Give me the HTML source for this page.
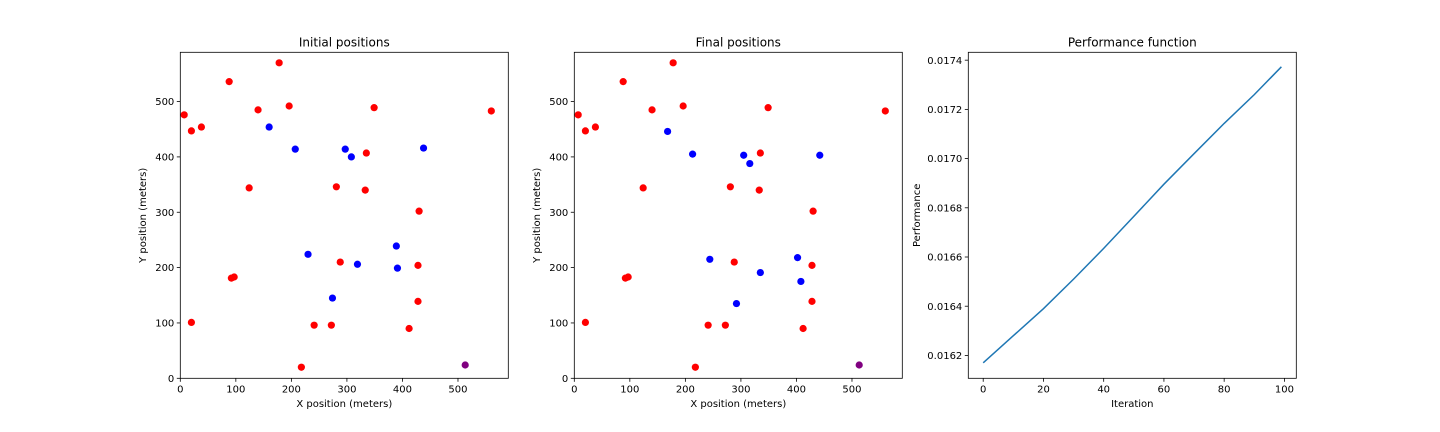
<!DOCTYPE html>
<html><head><meta charset="utf-8"><style>
html,body{margin:0;padding:0;background:#fff;}
svg{display:block;font-family:"DejaVu Sans","Liberation Sans",sans-serif;}
</style></head><body>
<svg id="fig" width="1440" height="432" viewBox="0 0 1440 432" xmlns="http://www.w3.org/2000/svg"></svg>
<script>
// ---- data ----
const redX = [178,88,7,140,196,349,560,20,38,335,124,281,333,430,288,428,92,97,428,20,241,272,412,218];
const redY = [570,536,476,485,492,489,483,447,454,407,344,346,340,302,210,204,181,183,139,101,96,96,90,20];
const blueInitX = [160,207,297,308,438,230,319,389,391,274];
const blueInitY = [454,414,414,400,416,224,206,239,199,145];
const blueFinalX = [168,213,305,316,442,244,335,402,408,292];
const blueFinalY = [446,405,403,388,403,215,191,218,175,135];
const baseX = [513];
const baseY = [24];
const posTicks = [0,100,200,300,400,500];
const iterX = [0,10,20,30,40,50,60,70,80,90,99];
const perfY = [0.01617,0.01628,0.01639,0.01651,0.016635,0.016765,0.016896,0.01702,0.017143,0.01726,0.017373];
const iterTicks = [0,20,40,60,80,100];
const perfTicks = [0.0162,0.0164,0.0166,0.0168,0.0170,0.0172,0.0174];

const svg = document.getElementById('fig');
const NS = 'http://www.w3.org/2000/svg';
function mk(tag, attrs, parent){const e=document.createElementNS(NS,tag);for(const k in attrs)e.setAttribute(k,attrs[k]);(parent||svg).appendChild(e);return e;}

function panel(left, name, title, xlabel, ylabel, xmin, xmax, ymin, ymax, xt, yt, xfmt, yfmt){
  const top=52.3, w=328, h=326;
  const g = mk('g',{});
  
  
  const sx = v => left + (v - xmin) / (xmax - xmin) * w;
  const sy = v => top + h - (v - ymin) / (ymax - ymin) * h;
  const t = mk('text',{x:left+w/2,y:top-6,'text-anchor':'middle','font-size':12,fill:'#000'},g);
  t.textContent = title;
  
  
  xt.forEach(v=>{
    const x=sx(v);
    mk('line',{x1:x,x2:x,y1:top+h,y2:top+h+3.5,stroke:'#000','stroke-width':0.8},g);
    const tl=mk('text',{x:x,y:top+h+14,'text-anchor':'middle','font-size':10,fill:'#000'},g);
    tl.textContent=xfmt(v);
    
    
  });
  yt.forEach(v=>{
    const y=sy(v);
    mk('line',{x1:left-3.5,x2:left,y1:y,y2:y,stroke:'#000','stroke-width':0.8},g);
    const tl=mk('text',{x:left-6,y:y+3.6,'text-anchor':'end','font-size':10,fill:'#000'},g);
    tl.textContent=yfmt(v);
    
    
  });
  const xl=mk('text',{x:left+w/2,y:407,'text-anchor':'middle','font-size':10,fill:'#000'},g);
  xl.textContent=xlabel;
  
  
  return {g,sx,sy,frame:()=>{const r=mk('rect',{x:left,y:top,width:w,height:h,fill:'none',stroke:'#000','stroke-width':0.8},g);}, ylab:(xpos)=>{const yl=mk('text',{x:xpos,y:top+h/2,'text-anchor':'middle','font-size':10,fill:'#000',transform:`rotate(-90 ${xpos} ${top+h/2})`},g);yl.textContent=ylabel;}};
}

function scatter(p, xs, ys, color, nm){
  xs.forEach((x,i)=>{
    const c=mk('circle',{cx:p.sx(x),cy:p.sy(ys[i]),r:3.6,fill:color},p.g);
    
    
  });
}

const intf = v => String(v);
const p1 = panel(180.3,'initial-positions-panel','Initial positions','X position (meters)','Y position (meters)',0,590.6,0,589,posTicks,posTicks,intf,intf);
p1.ylab(146);
scatter(p1, redX, redY, '#ff0000', 'red-point');
scatter(p1, blueInitX, blueInitY, '#0000ff', 'blue-point');
scatter(p1, baseX, baseY, '#800080', 'purple-point');
p1.frame();

const p2 = panel(574.3,'final-positions-panel','Final positions','X position (meters)','Y position (meters)',0,590.6,0,589,posTicks,posTicks,intf,intf);
p2.ylab(540);
scatter(p2, redX, redY, '#ff0000', 'red-point');
scatter(p2, blueFinalX, blueFinalY, '#0000ff', 'blue-point');
scatter(p2, baseX, baseY, '#800080', 'purple-point');
p2.frame();

const p3 = panel(968.3,'performance-panel','Performance function','Iteration','Performance',-4.95,103.95,0.016107,0.017432,iterTicks,perfTicks,intf,v=>v.toFixed(4));
p3.ylab(920);
const d = iterX.map((x,i)=>(i?'L':'M')+p3.sx(x).toFixed(2)+','+p3.sy(perfY[i]).toFixed(2)).join(' ');
const ln = mk('path',{d:d,fill:'none',stroke:'#1f77b4','stroke-width':1.5},p3.g);


p3.frame();
</script>
</body></html>
